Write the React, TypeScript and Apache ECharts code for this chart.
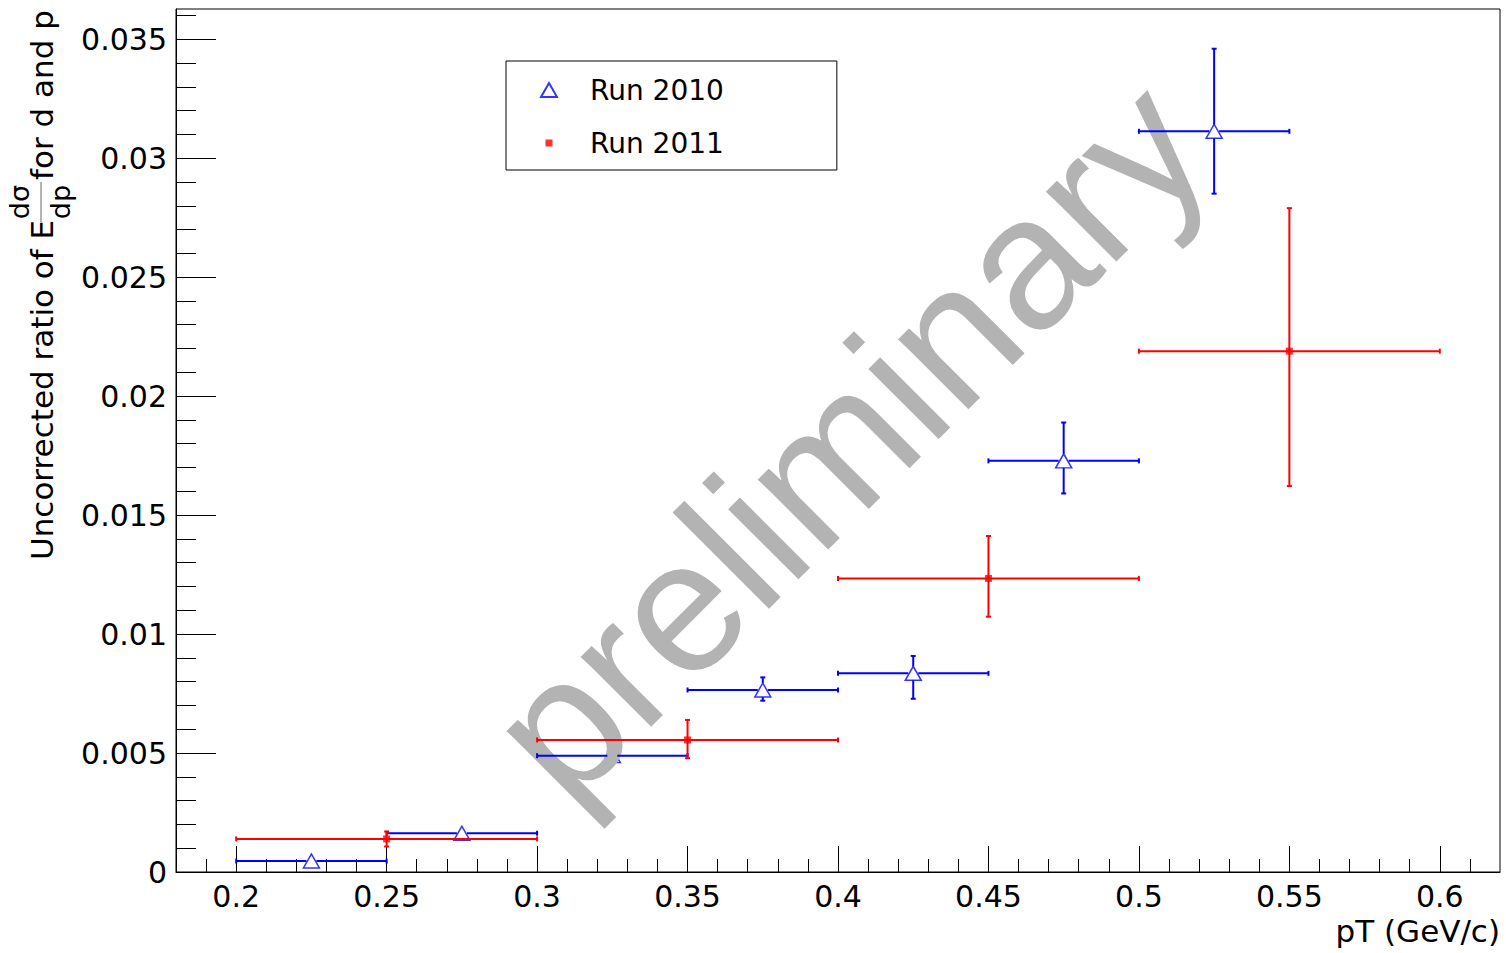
import React, { useEffect, useRef } from "react";
import * as echarts from "echarts";

// ---------- data ----------
const run2010X = [0.225, 0.275, 0.325, 0.375, 0.425, 0.475, 0.525];
const run2010XErr = [0.025, 0.025, 0.025, 0.025, 0.025, 0.025, 0.025];
const run2010Y = [0.00046, 0.00163, 0.00489, 0.00765, 0.00835, 0.01728, 0.03113];
const run2010YErrLow = [0.00005, 0.0001, 0.0002, 0.00045, 0.00107, 0.00137, 0.00262];
const run2010YErrHigh = [0.00005, 0.0001, 0.0002, 0.00053, 0.00073, 0.00161, 0.00347];

const run2011X = [0.25, 0.35, 0.45, 0.55];
const run2011XErr = [0.05, 0.05, 0.05, 0.05];
const run2011Y = [0.00139, 0.00555, 0.01234, 0.02189];
const run2011YErrLow = [0.00032, 0.00077, 0.00161, 0.00567];
const run2011YErrHigh = [0.00031, 0.00084, 0.00178, 0.00601];

const xMajorTicks = [0.2, 0.25, 0.3, 0.35, 0.4, 0.45, 0.5, 0.55, 0.6];
const xMinorTicks = [
  0.19, 0.2, 0.21, 0.22, 0.23, 0.24, 0.25, 0.26, 0.27, 0.28, 0.29, 0.3, 0.31, 0.32, 0.33,
  0.34, 0.35, 0.36, 0.37, 0.38, 0.39, 0.4, 0.41, 0.42, 0.43, 0.44, 0.45, 0.46, 0.47, 0.48,
  0.49, 0.5, 0.51, 0.52, 0.53, 0.54, 0.55, 0.56, 0.57, 0.58, 0.59, 0.6, 0.61,
];
const yMajorTicks = [0, 0.005, 0.01, 0.015, 0.02, 0.025, 0.03, 0.035];
const yMinorTicks = [
  0, 0.001, 0.002, 0.003, 0.004, 0.005, 0.006, 0.007, 0.008, 0.009, 0.01, 0.011, 0.012,
  0.013, 0.014, 0.015, 0.016, 0.017, 0.018, 0.019, 0.02, 0.021, 0.022, 0.023, 0.024, 0.025,
  0.026, 0.027, 0.028, 0.029, 0.03, 0.031, 0.032, 0.033, 0.034, 0.035, 0.036,
];

const X_MIN = 0.18;
const X_MAX = 0.62;
const Y_MIN = 0;
const Y_MAX = 0.03627;

const FONT = "DejaVu Sans";

function errData(xs: number[], xe: number[], ys: number[], lo: number[], hi: number[]) {
  return xs.map((x, i) => [x, ys[i], x - xe[i], x + xe[i], ys[i] - lo[i], ys[i] + hi[i]]);
}

function makeErr(color: string, gx: number, gy: number) {
  return (params: any, api: any) => {
    const x = api.value(0);
    const y = api.value(1);
    const c = api.coord([x, y]);
    const l = api.coord([api.value(2), y])[0];
    const r = api.coord([api.value(3), y])[0];
    const b = api.coord([x, api.value(4)])[1];
    const t = api.coord([x, api.value(5)])[1];
    const style = { stroke: color, lineWidth: 2 };
    const cap = 2.5;
    const children: any[] = [];
    const seg = (x1: number, y1: number, x2: number, y2: number) =>
      children.push({ type: "line", shape: { x1, y1, x2, y2 }, style });
    if (c[0] - gx > l) seg(l, c[1], c[0] - gx, c[1]);
    if (r > c[0] + gx) seg(c[0] + gx, c[1], r, c[1]);
    seg(l, c[1] - cap, l, c[1] + cap);
    seg(r, c[1] - cap, r, c[1] + cap);
    if (t < c[1] - gy) {
      seg(c[0], t, c[0], c[1] - gy);
      seg(c[0] - cap, t, c[0] + cap, t);
    }
    if (b > c[1] + gy) {
      seg(c[0], c[1] + gy, c[0], b);
      seg(c[0] - cap, b, c[0] + cap, b);
    }
    return { type: "group", children };
  };
}

const fmt = (v: number) => String(parseFloat(Number(v).toFixed(4)));

function txt(text: string, x: number, y: number, size: number, align: string, extra: any = {}) {
  return {
    type: "text",
    x,
    y,
    style: {
      text,
      fontFamily: FONT,
      fontSize: size,
      fill: "#000",
      align,
      textAlign: align,
      verticalAlign: "middle",
      textVerticalAlign: "middle",
      ...extra,
    },
  };
}

export default function App() {
  const ref = useRef<HTMLDivElement>(null);

  useEffect(() => {
    if (!ref.current) return;
    const chart = echarts.init(ref.current, undefined, { renderer: "svg" });

    const option: any = {
      animation: false,
      backgroundColor: "#ffffff",
      grid: {
        left: 176,
        right: 6,
        top: 9,
        bottom: 81,
        show: true,
        borderColor: "#000",
        borderWidth: 1,
        backgroundColor: "transparent",
        containLabel: false,
        outerBoundsMode: "none",
      },
      legend: {
        orient: "vertical",
        left: 506,
        top: 61,
        backgroundColor: "#fff",
        borderColor: "#000",
        borderWidth: 1,
        borderRadius: 0,
        padding: [14, 113, 12, 34],
        itemGap: 23,
        itemWidth: 16,
        itemHeight: 14,
        selectedMode: false,
        textStyle: {
          fontFamily: FONT,
          fontSize: 28,
          color: "#000",
          lineHeight: 30,
          padding: [0, 0, 0, 28],
        },
        data: [
          { name: "Run 2010", icon: "triangle" },
          {
            name: "Run 2011",
            icon: "path://M0,0M14,14M3.5,3.5L10.5,3.5L10.5,10.5L3.5,10.5Z",
          },
        ],
      },
      xAxis: [
        {
          type: "value",
          min: X_MIN,
          max: X_MAX,
          position: "bottom",
          axisLine: { show: true, onZero: false, lineStyle: { color: "#000", width: 1 } },
          axisTick: {
            show: true,
            inside: true,
            length: 26,
            customValues: xMajorTicks,
            lineStyle: { color: "#000", width: 1 },
          },
          axisLabel: {
            show: true,
            customValues: xMajorTicks,
            margin: 9,
            fontFamily: FONT,
            fontSize: 30,
            color: "#000",
            formatter: fmt,
          },
          splitLine: { show: false },
        },
        {
          type: "value",
          min: X_MIN,
          max: X_MAX,
          position: "bottom",
          axisLine: { show: false, onZero: false },
          axisTick: {
            show: true,
            inside: true,
            length: 13,
            customValues: xMinorTicks,
            lineStyle: { color: "#000", width: 1 },
          },
          axisLabel: { show: false },
          splitLine: { show: false },
        },
      ],
      yAxis: [
        {
          type: "value",
          min: Y_MIN,
          max: Y_MAX,
          position: "left",
          axisLine: { show: true, onZero: false, lineStyle: { color: "#000", width: 1 } },
          axisTick: {
            show: true,
            inside: true,
            length: 40,
            customValues: yMajorTicks,
            lineStyle: { color: "#000", width: 1 },
          },
          axisLabel: {
            show: true,
            customValues: yMajorTicks,
            margin: 9,
            fontFamily: FONT,
            fontSize: 30,
            color: "#000",
            formatter: fmt,
          },
          splitLine: { show: false },
        },
        {
          type: "value",
          min: Y_MIN,
          max: Y_MAX,
          position: "left",
          axisLine: { show: false, onZero: false },
          axisTick: {
            show: true,
            inside: true,
            length: 20,
            customValues: yMinorTicks,
            lineStyle: { color: "#000", width: 1 },
          },
          axisLabel: { show: false },
          splitLine: { show: false },
        },
      ],
      series: [
        {
          type: "custom",
          name: "Run 2010 errors",
          xAxisIndex: 0,
          yAxisIndex: 0,
          data: errData(run2010X, run2010XErr, run2010Y, run2010YErrLow, run2010YErrHigh),
          renderItem: makeErr("#0000ff", 5, 7),
          encode: { x: 0, y: 1 },
          z: 4,
          silent: true,
        },
        {
          type: "custom",
          name: "Run 2011 errors",
          xAxisIndex: 0,
          yAxisIndex: 0,
          data: errData(run2011X, run2011XErr, run2011Y, run2011YErrLow, run2011YErrHigh),
          renderItem: makeErr("#ff0000", 0, 0),
          encode: { x: 0, y: 1 },
          z: 4,
          silent: true,
        },
        {
          type: "scatter",
          name: "Run 2010",
          xAxisIndex: 0,
          yAxisIndex: 0,
          data: run2010X.map((x, i) => [x, run2010Y[i]]),
          symbol: "triangle",
          symbolSize: [16, 14],
          itemStyle: { color: "rgba(255,255,255,0)", borderColor: "#0000ff", borderWidth: 1.5 },
          z: 2,
          silent: true,
        },
        {
          type: "scatter",
          name: "Run 2011",
          xAxisIndex: 0,
          yAxisIndex: 0,
          data: run2011X.map((x, i) => [x, run2011Y[i]]),
          symbol: "rect",
          symbolSize: 7,
          itemStyle: { color: "#ff0000" },
          z: 5,
          silent: true,
        },
      ],
      graphic: {
        elements: [
          {
            type: "text",
            x: 522,
            y: 764,
            rotation: Math.PI / 4,
            z: 3,
            silent: true,
            style: {
              text: "preliminary",
              fontFamily: "Liberation Sans",
              fontSize: 188,
              fill: "#b3b3b3",
              align: "left",
              textAlign: "left",
              verticalAlign: "middle",
              textVerticalAlign: "middle",
            },
          },
          {
            type: "text",
            x: 1500,
            y: 931,
            z: 10,
            silent: true,
            style: {
              text: "pT (GeV/c)",
              fontFamily: FONT,
              fontSize: 31,
              fill: "#000",
              align: "right",
              textAlign: "right",
              verticalAlign: "middle",
              textVerticalAlign: "middle",
            },
          },
          {
            type: "group",
            x: 53,
            y: 560,
            rotation: Math.PI / 2,
            z: 10,
            silent: true,
            children: [
              txt("Uncorrected ratio of E", 0, -10.7, 31, "left"),
              txt("dσ", 358, -34, 27, "center"),
              {
                type: "line",
                shape: { x1: 338, y1: -12, x2: 378, y2: -12 },
                style: { stroke: "#666", lineWidth: 1 },
              },
              txt("dp", 358, 7, 27, "center"),
              txt("for d and p", 380, -10.7, 31, "left"),
            ],
          },
        ],
      },
    };

    chart.setOption(option);
    return () => chart.dispose();
  }, []);

  return (
    <div
      ref={ref}
      style={{ position: "fixed", left: 0, top: 0, width: 1506, height: 953, background: "#fff" }}
    />
  );
}
